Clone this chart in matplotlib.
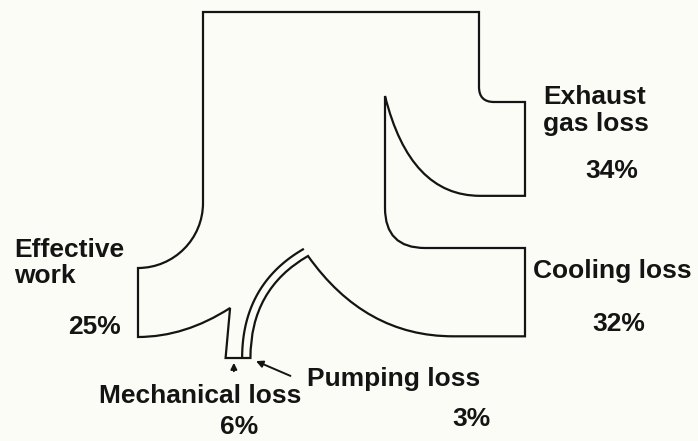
import matplotlib
matplotlib.use("Agg")
import numpy as np
import matplotlib.pyplot as plt
from matplotlib.path import Path
from matplotlib.patches import PathPatch

# energy balance of the engine, percent of fuel energy
flow_names = ["Effective\nwork", "Exhaust\ngas loss", "Cooling loss", "Mechanical loss", "Pumping loss"]
flow_pct = [25, 34, 32, 6, 3]
pct = dict(zip(["work", "exhaust", "cooling", "mech", "pump"], flow_pct))

INK = "#141414"
BG = "#fcfcf7"


def quad_points(p0, c, p2, n=80):
    """Points and unit normals along a quadratic bezier."""
    t = np.linspace(0, 1, n)[:, None]
    p0, c, p2 = map(np.asarray, (p0, c, p2))
    pts = (1 - t) ** 2 * p0 + 2 * (1 - t) * t * c + t ** 2 * p2
    d = 2 * (1 - t) * (c - p0) + 2 * t * (p2 - c)
    d = d / np.linalg.norm(d, axis=1)[:, None]
    normals = np.column_stack([-d[:, 1], d[:, 0]])
    return pts, normals


fig = plt.figure(figsize=(6.98, 4.41), dpi=100, facecolor=BG)
ax = fig.add_axes([0, 0, 1, 1])
ax.set_xlim(0, 698)
ax.set_ylim(441, 0)
ax.set_facecolor(BG)
ax.axis("off")

# band width per percent
S = 2.76

x_in = 203
x_in_r = x_in + 100 * S
y_top = 12
x_out = 525

ex_top = 102
ex_bot = ex_top + pct["exhaust"] * S
co_top = 248
co_bot = co_top + pct["cooling"] * S
ef_bot = 337
ef_top = ef_bot - pct["work"] * S
x_ef = 138

stub_bot = 358
stub_l = 238 - (pct["mech"] + pct["pump"]) * S / 2
stub_m = stub_l + pct["mech"] * S
stub_r = stub_m + pct["pump"] * S

tip_ex = (385, 96)
tip_co = (308, 256)
notch = (stub_l + 4.5, 308)

r_in = x_in - x_ef
k = 0.5523

verts = [
    (x_in, y_top), (x_in_r, y_top),
    (x_in_r, ex_top - 15), (x_in_r, ex_top), (x_in_r + 15, ex_top),
    (x_out, ex_top), (x_out, ex_bot), (480, ex_bot),
    (410, ex_bot), tip_ex,
    (385, co_top - 40), (385, co_top), (425, co_top),
    (x_out, co_top), (x_out, co_bot), (453, co_bot),
    (365, co_bot), tip_co,
    (stub_r, 289), (stub_r, stub_bot),
    (stub_l, stub_bot), notch,
    (185, ef_bot), (x_ef, ef_bot),
    (x_ef, ef_top),
    (x_ef + k * r_in, ef_top), (x_in, ef_top - r_in + k * r_in), (x_in, ef_top - r_in),
    (x_in, y_top),
]
codes = [
    Path.MOVETO, Path.LINETO,
    Path.LINETO, Path.CURVE3, Path.CURVE3,
    Path.LINETO, Path.LINETO, Path.LINETO,
    Path.CURVE3, Path.CURVE3,
    Path.LINETO, Path.CURVE3, Path.CURVE3,
    Path.LINETO, Path.LINETO, Path.LINETO,
    Path.CURVE3, Path.CURVE3,
    Path.CURVE3, Path.CURVE3,
    Path.LINETO, Path.LINETO,
    Path.CURVE3, Path.CURVE3,
    Path.LINETO,
    Path.CURVE4, Path.CURVE4, Path.CURVE4,
    Path.CLOSEPOLY,
]
ax.add_patch(PathPatch(Path(verts, codes), fill=False, edgecolor=INK, lw=1.6,
                       joinstyle="miter"))

# inner edge of the pumping band, offset from its outer curve
pts, nrm = quad_points(tip_co, (stub_r, 289), (stub_r, stub_bot))
inner = pts + nrm * pct["pump"] * S
ax.plot(inner[:, 0], inner[:, 1], color=INK, lw=1.6, solid_capstyle="butt")

# pointers to the two small losses
mid_mech = (stub_l + stub_m) / 2
ax.annotate("", xy=(mid_mech, stub_bot + 2), xytext=(mid_mech, stub_bot + 16),
            arrowprops=dict(arrowstyle="-|>", color=INK, lw=1.4, mutation_scale=9))
ax.annotate("", xy=(stub_r + 3, stub_bot + 2), xytext=(293, 377),
            arrowprops=dict(arrowstyle="-|>", color=INK, lw=1.4, mutation_scale=10))

font = dict(family=["Liberation Sans", "DejaVu Sans"], weight="bold", size=19,
            color=INK, va="baseline", ha="left")

# label anchors: first-line position, line step, value position
label_pos = [
    ((14, 257), 26, (68, 334)),
    ((543, 104), 27, (585, 178)),
    ((533, 278), 0, (592, 331)),
    ((99, 403), 0, (220, 434)),
    ((307, 386), 0, (452, 426)),
]
for name, v, (xy, step, vxy) in zip(flow_names, flow_pct, label_pos):
    for i, line in enumerate(name.split("\n")):
        ax.text(xy[0], xy[1] + i * step, line, **font)
    ax.text(vxy[0], vxy[1], f"{v}%", **font)

fig.savefig("out.png", dpi=100, facecolor=BG)
